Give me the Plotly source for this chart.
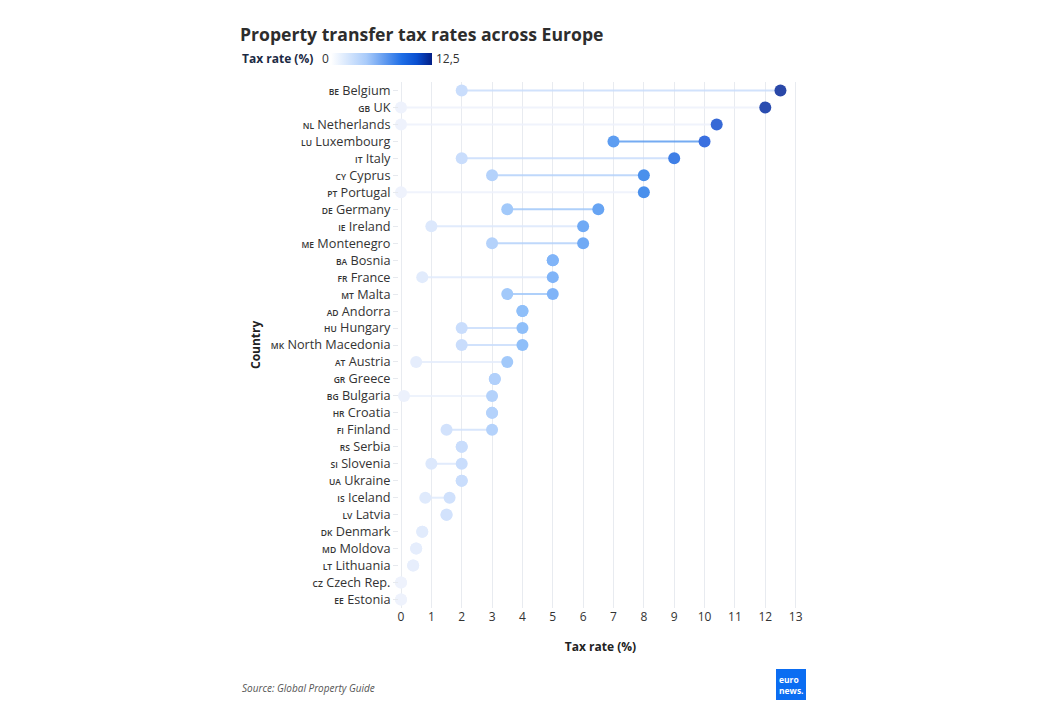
import plotly.graph_objects as go
from plotly.colors import sample_colorscale

codes = ["BE", "GB", "NL", "LU", "IT", "CY", "PT", "DE", "IE", "ME", "BA", "FR", "MT", "AD", "HU", "MK",
         "AT", "GR", "BG", "HR", "FI", "RS", "SI", "UA", "IS", "LV", "DK", "MD", "LT", "CZ", "EE"]
countries = ["Belgium", "UK", "Netherlands", "Luxembourg", "Italy", "Cyprus", "Portugal", "Germany", "Ireland",
             "Montenegro", "Bosnia", "France", "Malta", "Andorra", "Hungary", "North Macedonia", "Austria",
             "Greece", "Bulgaria", "Croatia", "Finland", "Serbia", "Slovenia", "Ukraine", "Iceland", "Latvia",
             "Denmark", "Moldova", "Lithuania", "Czech Rep.", "Estonia"]
min_rate = [2, 0, 0, 7, 2, 3, 0, 3.5, 1, 3, 5, 0.7, 3.5, 4, 2, 2, 0.5, 3.09, 0.1, 3, 1.5, 2, 1, 2, 0.8, 1.5,
            0.7, 0.5, 0.4, 0, 0]
max_rate = [12.5, 12, 10.4, 10, 9, 8, 8, 6.5, 6, 6, 5, 5, 5, 4, 4, 4, 3.5, 3.09, 3, 3, 3, 2, 2, 2, 1.6, 1.5,
            0.7, 0.5, 0.4, 0, 0]
x_ticks = list(range(0, 14))
cmax = 12.5

dot_scale = [[0, "#eef2fc"], [0.16, "#c9ddfc"], [0.24, "#b4d2fb"], [0.32, "#8fbff9"], [0.4, "#80b4f8"],
             [0.48, "#70aaf5"], [0.64, "#4a90ec"], [0.72, "#3f7fe6"], [0.8, "#3a70e0"], [0.96, "#2a4db0"],
             [1, "#2a48a8"]]
bar_scale = [[0, "#ffffff"], [0.35, "#a9cbfa"], [0.7, "#1f6ee6"], [0.85, "#0a4fd0"], [1, "#031f86"]]

W, H = 1063, 722
L, R, T, B = 399, 261, 82, 114
PW, PH = W - L - R, H - T - B


def px(x):
    return (x - L) / PW


def py(y):
    return (H - B - y) / PH


labels = [f"<span style='font-size:8.5px;font-weight:600'>{c}</span> {n}" for c, n in zip(codes, countries)]

fig = go.Figure()

for lab, lo, hi in zip(labels, min_rate, max_rate):
    if hi > lo:
        col = sample_colorscale(dot_scale, [lo / cmax])[0]
        fig.add_trace(go.Scatter(x=[lo, hi], y=[lab, lab], mode="lines", cliponaxis=False,
                                 line=dict(color=col, width=2), opacity=0.85,
                                 hoverinfo="skip", showlegend=False))

fig.add_trace(go.Scatter(x=min_rate, y=labels, mode="markers", cliponaxis=False,
                         marker=dict(size=12, color=min_rate, colorscale=dot_scale, cmin=0, cmax=cmax),
                         showlegend=False))
fig.add_trace(go.Scatter(x=max_rate, y=labels, mode="markers", cliponaxis=False,
                         marker=dict(size=12, color=max_rate, colorscale=dot_scale, cmin=0, cmax=cmax),
                         showlegend=False))

# colorbar-only trace
fig.add_trace(go.Scatter(x=[None], y=[None], mode="markers", showlegend=False, hoverinfo="skip",
                         marker=dict(color=[0, cmax], cmin=0, cmax=cmax, colorscale=bar_scale, showscale=True,
                                     colorbar=dict(orientation="h", x=px(331), xanchor="left", y=py(59),
                                                   yanchor="middle", lenmode="pixels", len=101, thickness=12,
                                                   outlinewidth=0, xpad=0, ypad=0, showticklabels=False,
                                                   ticks=""))))

fig.update_layout(
    width=W, height=H, autosize=False,
    margin=dict(l=L, r=R, t=T, b=B),
    paper_bgcolor="white", plot_bgcolor="white",
    font=dict(family="Open Sans", size=12, color="#333333"),
    title=dict(text="<b>Property transfer tax rates across Europe</b>", xref="container", yref="container",
               x=240 / W, xanchor="left", y=1 - 35 / H, yanchor="middle",
               font=dict(size=17.6, color="#2d2d2d")),
    xaxis=dict(range=[-0.066, 13.21], tickvals=x_ticks, showgrid=True, gridcolor="#e8ebf0", gridwidth=1,
               zeroline=False, showline=False, ticks="", tickfont=dict(size=12, color="#333"),
               title=dict(text="<b>Tax rate (%)</b>", font=dict(size=12, color="#222"), standoff=18)),
    yaxis=dict(categoryorder="array", categoryarray=labels, range=[30.5, -0.5], showgrid=False,
               zeroline=False, ticks="outside", ticklen=5,
               tickcolor="#e6e9ee", tickfont=dict(size=12.7, color="#333")),
    annotations=[
        dict(text="<b>Tax rate (%)</b>", x=px(240), y=py(59), xref="paper", yref="paper", xanchor="left",
             yanchor="middle", showarrow=False, font=dict(size=12, color="#1b2a44")),
        dict(text="0", x=px(331), y=py(59), xref="paper", yref="paper", xanchor="right",
             yanchor="middle", showarrow=False, font=dict(size=12, color="#333")),
        dict(text="12,5", x=px(434), y=py(59), xref="paper", yref="paper", xanchor="left",
             yanchor="middle", showarrow=False, font=dict(size=12, color="#333")),
        dict(text="<b>Country</b>", x=px(255), y=py(345), xref="paper", yref="paper", xanchor="center",
             yanchor="middle", textangle=-90, showarrow=False, font=dict(size=12, color="#222")),
        dict(text="<i>Source: Global Property Guide</i>", x=px(240), y=py(688), xref="paper", yref="paper",
             xanchor="left", yanchor="middle", showarrow=False, font=dict(size=10, color="#555")),
        dict(text="<b>euro<br>news.</b>", x=px(791), y=py(685), xref="paper", yref="paper",
             xanchor="center", yanchor="middle", showarrow=False,
             font=dict(size=8.5, color="white", family="Open Sans"), align="left"),
    ],
    shapes=[dict(type="rect", xref="paper", yref="paper", x0=px(776), x1=px(806), y0=py(700), y1=py(669),
                 fillcolor="#0b6df2", line=dict(width=0), layer="below")],
)

fig.write_html("out.html")
